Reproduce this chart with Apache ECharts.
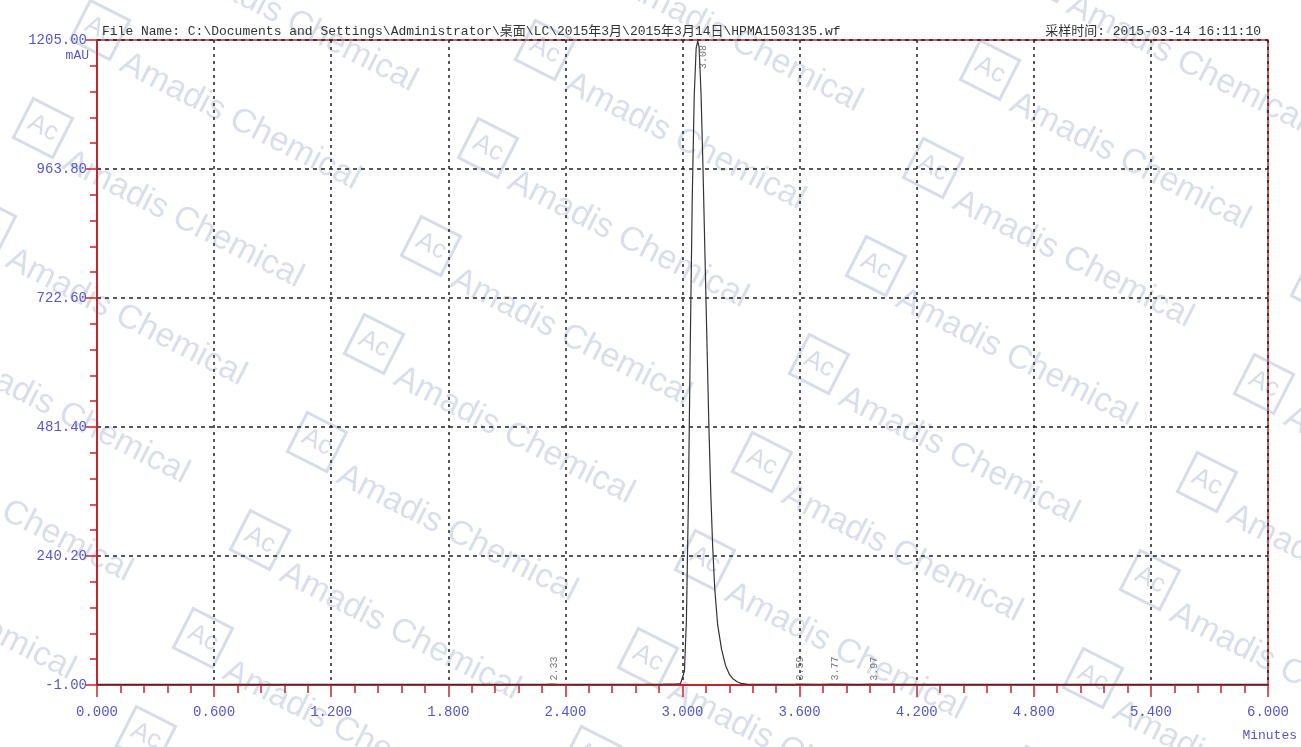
<!DOCTYPE html>
<html>
<head>
<meta charset="utf-8">
<script src="https://cdn.jsdelivr.net/npm/echarts@6/dist/echarts.min.js"></script>
<style>
html,body{margin:0;padding:0;background:#fff;}
#chart{width:1301px;height:747px;}
</style>
</head>
<body>
<div id="chart"></div>
<script>
// ---- data ----
const times = [0, 0.3, 0.6, 0.9, 1.2, 1.5, 1.8, 2.1, 2.3, 2.32, 2.33, 2.34, 2.36, 2.5, 2.7, 2.9, 2.97, 2.99,
  3.000, 3.010, 3.020, 3.030, 3.040, 3.050, 3.060, 3.070, 3.078, 3.085, 3.095, 3.105, 3.115, 3.125, 3.135,
  3.145, 3.155, 3.165, 3.180, 3.200, 3.220, 3.240, 3.260, 3.280, 3.300, 3.330, 3.400, 3.500,
  3.58, 3.59, 3.60, 3.70, 3.76, 3.77, 3.78, 3.90, 3.96, 3.97, 3.98, 4.2, 4.5, 4.8, 5.1, 5.4, 5.7, 6.0];
const absorbance = [0, 0, 0.2, 0, 0.1, 0, 0.2, 0.1, 0.3, 0.8, 2.0, 0.8, 0.4, 0.3, 0.4, 0.6, 1.0, 1.8,
  4, 25, 120, 340, 640, 910, 1100, 1190, 1203, 1192, 1105, 965, 805, 645, 485,
  355, 255, 180, 112, 66, 36, 19, 10, 5, 2, 0.8, 0.4, 0.3,
  0.6, 2.0, 0.8, 0.4, 0.6, 1.6, 0.6, 0.3, 0.5, 1.5, 0.5, 0.2, 0.1, 0.3, 0.1, 0.2, 0.1, 0];
const peakTimes = [2.33, 3.08, 3.59, 3.77, 3.97];
const peakHeights = [2.0, 1203, 2.0, 1.6, 1.5];
const peakLabels = ['2.33', '3.08', '3.59', '3.77', '3.97'];
const xTickLabels = ['0.000', '0.600', '1.200', '1.800', '2.400', '3.000', '3.600', '4.200', '4.800', '5.400', '6.000'];
const yTickLabels = ['-1.00', '240.20', '481.40', '722.60', '963.80', '1205.00'];
const fileNameText = 'File Name: C:\\Documents and Settings\\Administrator\\桌面\\LC\\2015年3月\\2015年3月14日\\HPMA1503135.wf';
const timeText = '采样时间: 2015-03-14 16:11:10';
const yUnit = 'mAU';
const xUnit = 'Minutes';

// ---- styles ----
const RED = '#c8232c';
const BLUE = '#5656cc';
const MONO = '"Liberation Mono", "Noto Sans CJK SC", monospace';

const lineData = times.map((t, i) => [t, absorbance[i]]);
const peakData = peakTimes.map((t, i) => {
  const item = { value: [t, peakHeights[i]], name: peakLabels[i] };
  if (peakHeights[i] > 600) {
    item.label = { position: 'bottom', align: 'right', distance: 4, offset: [0, 5] };
  }
  return item;
});

// watermark lattice (decoration)
const wm = [];
for (let c = -1; c <= 3; c++) {
  for (let r = -1; r <= 8; r++) {
    const x = 545 + 445 * c - 57 * r;
    const y = 50 + 20 * c + 98 * r;
    if (x < -400 || x > 1350 || y < -80 || y > 800) continue;
    wm.push({
      type: 'group', x: x, y: y, rotation: -0.47, silent: true,
      children: [
        { type: 'rect', shape: { x: -22, y: -22, width: 44, height: 44 },
          style: { fill: 'none', stroke: 'rgba(110,130,175,0.28)', lineWidth: 3 } },
        { type: 'text', x: 0, y: 0,
          style: { text: 'Ac', fill: 'rgba(110,130,175,0.28)', font: '26px "Liberation Sans", Arial, sans-serif',
                   align: 'center', verticalAlign: 'middle' } },
        { type: 'text', x: 34, y: 18,
          style: { text: 'Amadis Chemical', fill: 'rgba(110,130,175,0.26)', font: '34px "Liberation Sans", Arial, sans-serif',
                   align: 'left', verticalAlign: 'middle' } }
      ]
    });
  }
}

const chart = echarts.init(document.getElementById('chart'), null, { renderer: 'canvas' });
chart.setOption({
  backgroundColor: '#ffffff',
  animation: false,
  title: [
    { text: fileNameText, left: 97, top: 20,
      textStyle: { fontFamily: MONO, fontSize: 13, fontWeight: 'normal', color: '#333' } },
    { text: timeText, right: 35, top: 20,
      textStyle: { fontFamily: MONO, fontSize: 13, fontWeight: 'normal', color: '#333' } }
  ],
  grid: { left: 97, right: 33, top: 40, bottom: 62, show: true, borderColor: RED, borderWidth: 1.5, backgroundColor: 'transparent' },
  xAxis: {
    type: 'value', min: 0, max: 6, interval: 0.6,
    axisLine: { onZero: false, lineStyle: { color: RED, width: 2 } },
    axisTick: { show: true, length: 12, lineStyle: { color: RED, width: 1.5 } },
    minorTick: { show: true, splitNumber: 5, length: 8, lineStyle: { color: RED, width: 1.5 } },
    axisLabel: { margin: 20, color: BLUE, fontFamily: MONO, fontSize: 14,
      formatter: (v) => xTickLabels[Math.round(v / 0.6)] },
    splitLine: { show: true, lineStyle: { color: '#222', type: [3, 4], width: 1.5 } }
  },
  yAxis: [
    {
      type: 'value', min: 0, max: 1206, interval: 241.2,
      axisLine: { show: true, lineStyle: { color: RED, width: 2 } },
      axisTick: { show: true, length: 11, lineStyle: { color: RED, width: 1.5 } },
      minorTick: { show: true, splitNumber: 5, length: 7, lineStyle: { color: RED, width: 1.5 } },
      axisLabel: { margin: 10, color: BLUE, fontFamily: MONO, fontSize: 14,
        formatter: (v) => yTickLabels[Math.round(v / 241.2)] },
      splitLine: { show: true, lineStyle: { color: '#222', type: [4, 4], width: 1.5 } }
    },
    { type: 'value', min: -1, max: 1205, show: false, splitLine: { show: false } }
  ],
  graphic: [
    { type: 'text', right: 1301 - 89, top: 49, z: 10,
      style: { text: yUnit, fill: BLUE, font: '13px ' + MONO } },
    { type: 'text', right: 4, top: 729, z: 10,
      style: { text: xUnit, fill: BLUE, font: '13px ' + MONO } },
    { type: 'group', z: 200, silent: true, children: wm }
  ],
  series: [
    {
      type: 'line', yAxisIndex: 1, data: lineData, showSymbol: false, symbol: 'none',
      lineStyle: { color: '#333', width: 1.2 }, z: 5
    },
    {
      type: 'scatter', yAxisIndex: 1, data: peakData, symbolSize: 0, z: 6,
      label: {
        show: true, rotate: 90, position: 'top', distance: 3, align: 'left', verticalAlign: 'middle',
        offset: [0, 3], color: '#555', fontFamily: MONO, fontSize: 10,
        formatter: (p) => p.name
      }
    }
  ]
});
</script>
</body>
</html>
